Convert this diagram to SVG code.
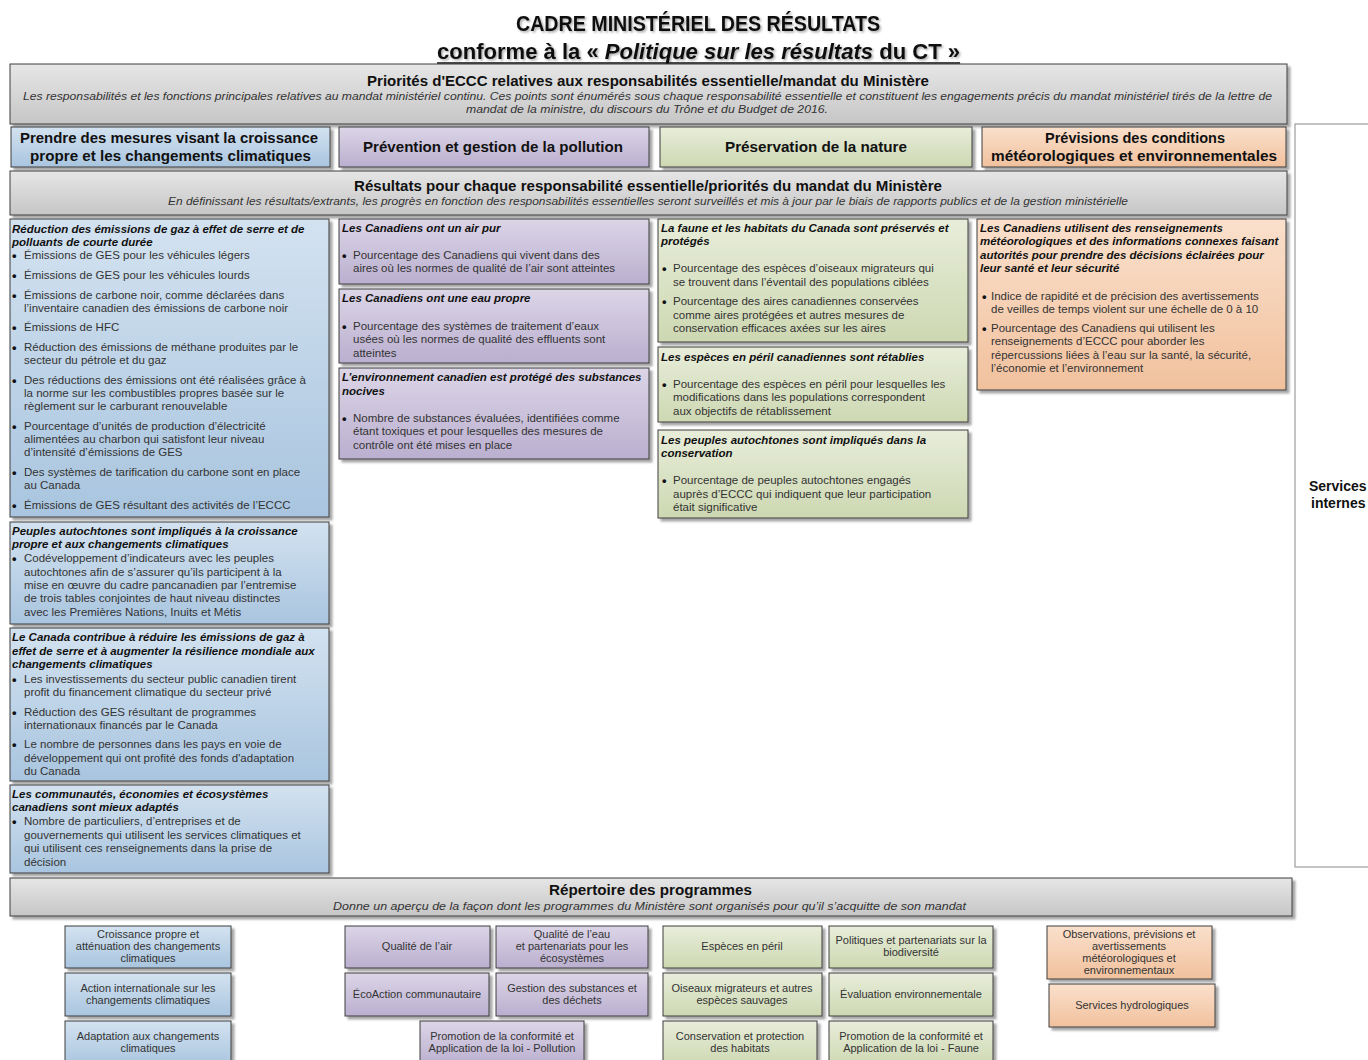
<svg xmlns="http://www.w3.org/2000/svg" width="1368" height="1060" viewBox="0 0 1368 1060">
<defs>
<linearGradient id="gGray" x1="0" y1="0" x2="0" y2="1"><stop offset="0" stop-color="#e6e6e6"/><stop offset="1" stop-color="#c6c6c6"/></linearGradient>
<linearGradient id="gBlue" x1="0" y1="0" x2="0" y2="1"><stop offset="0" stop-color="#d3e2f0"/><stop offset="1" stop-color="#a9c5df"/></linearGradient>
<linearGradient id="gPurple" x1="0" y1="0" x2="0" y2="1"><stop offset="0" stop-color="#dcd5e7"/><stop offset="1" stop-color="#baafcf"/></linearGradient>
<linearGradient id="gGreen" x1="0" y1="0" x2="0" y2="1"><stop offset="0" stop-color="#e8edda"/><stop offset="1" stop-color="#cdd8b2"/></linearGradient>
<linearGradient id="gOrange" x1="0" y1="0" x2="0" y2="1"><stop offset="0" stop-color="#fae0cc"/><stop offset="1" stop-color="#f1c19d"/></linearGradient>
<filter id="sh" x="-5%" y="-5%" width="115%" height="120%"><feDropShadow dx="3" dy="3" stdDeviation="1.2" flood-color="#000" flood-opacity="0.35"/></filter>
<filter id="tsh" x="-5%" y="-20%" width="110%" height="150%"><feDropShadow dx="1.5" dy="1.5" stdDeviation="0.8" flood-color="#000" flood-opacity="0.35"/></filter>
</defs>
<style>
text{font-family:"Liberation Sans",Arial,sans-serif}
.box{stroke:#3c3c3c;stroke-width:1;filter:url(#sh)}
.gray{fill:url(#gGray)}
.blue{fill:url(#gBlue)}
.purple{fill:url(#gPurple)}
.green{fill:url(#gGreen)}
.orange{fill:url(#gOrange)}
.ttl{font-weight:bold;font-size:22px;fill:#111}
.hd{font-weight:bold;font-size:15px;fill:#111}
.sub{font-style:italic;font-size:11px;fill:#333}
.t{font-style:italic;font-weight:bold;font-size:11.5px;fill:#111}
.b{font-size:11.5px;fill:#333}
.d{font-size:13px;font-weight:bold;fill:#111}
.p{font-size:11px;fill:#333;text-anchor:middle}
.si{font-weight:bold;font-size:14px;fill:#111}
</style>
<rect width="1368" height="1060" fill="#fff"/>

<g id="title" filter="url(#tsh)">
<text class="ttl" x="516" y="31" textLength="364" lengthAdjust="spacingAndGlyphs">CADRE MINISTÉRIEL DES RÉSULTATS</text>
<text class="ttl" x="437" y="59" textLength="523" lengthAdjust="spacingAndGlyphs">conforme à la « <tspan font-style="italic">Politique sur les résultats</tspan> du CT »</text>
<line x1="437" y1="63" x2="960" y2="63" stroke="#111" stroke-width="1.6"/>
</g>

<g id="priorites">
<rect class="box gray" x="10" y="64" width="1277" height="60"/>
<text class="hd" x="367" y="86" textLength="562" lengthAdjust="spacingAndGlyphs">Priorités d'ECCC relatives aux responsabilités essentielle/mandat du Ministère</text>
<text class="sub" x="23" y="100" textLength="1249" lengthAdjust="spacingAndGlyphs">Les responsabilités et les fonctions principales relatives au mandat ministériel continu. Ces points sont énumérés sous chaque responsabilité essentielle et constituent les engagements précis du mandat ministériel tirés de la lettre de</text>
<text class="sub" x="466" y="113" textLength="362" lengthAdjust="spacingAndGlyphs">mandat de la ministre, du discours du Trône et du Budget de 2016.</text>
</g>

<g id="resp-croissance">
<rect class="box blue" x="11" y="127" width="319" height="40"/>
<text class="hd" x="20" y="143" textLength="298" lengthAdjust="spacingAndGlyphs">Prendre des mesures visant la croissance</text>
<text class="hd" x="30" y="161" textLength="281" lengthAdjust="spacingAndGlyphs">propre et les changements climatiques</text>
</g>
<g id="resp-pollution">
<rect class="box purple" x="339" y="127" width="310" height="40"/>
<text class="hd" x="363" y="152" textLength="260" lengthAdjust="spacingAndGlyphs">Prévention et gestion de la pollution</text>
</g>
<g id="resp-nature">
<rect class="box green" x="660" y="127" width="312" height="40"/>
<text class="hd" x="725" y="152" textLength="182" lengthAdjust="spacingAndGlyphs">Préservation de la nature</text>
</g>
<g id="resp-meteo">
<rect class="box orange" x="982" y="127" width="304" height="40"/>
<text class="hd" x="1045" y="143" textLength="180" lengthAdjust="spacingAndGlyphs">Prévisions des conditions</text>
<text class="hd" x="991" y="161" textLength="286" lengthAdjust="spacingAndGlyphs">météorologiques et environnementales</text>
</g>

<g id="services-internes">
<rect x="1295" y="124" width="90" height="743" fill="#fff" stroke="#8a8a8a" stroke-width="1"/>
<text class="si" x="1309" y="491">Services</text>
<text class="si" x="1311" y="508">internes</text>
</g>

<g id="resultats">
<rect class="box gray" x="10" y="171" width="1277" height="44"/>
<text class="hd" x="354" y="191" textLength="588" lengthAdjust="spacingAndGlyphs">Résultats pour chaque responsabilité essentielle/priorités du mandat du Ministère</text>
<text class="sub" x="168" y="205" textLength="960" lengthAdjust="spacingAndGlyphs">En définissant les résultats/extrants, les progrès en fonction des responsabilités essentielles seront surveillés et mis à jour par le biais de rapports publics et de la gestion ministérielle</text>
</g>

<g id="res-reduction">
<rect class="box blue" x="10" y="219" width="319" height="298"/>
<text class="t"><tspan x="12" y="233">Réduction des émissions de gaz à effet de serre et de</tspan><tspan x="12" y="246">polluants de courte durée</tspan></text>
<text class="d"><tspan x="12" y="260">•</tspan><tspan x="12" y="280">•</tspan><tspan x="12" y="300">•</tspan><tspan x="12" y="332">•</tspan><tspan x="12" y="352">•</tspan><tspan x="12" y="385">•</tspan><tspan x="12" y="431">•</tspan><tspan x="12" y="477">•</tspan><tspan x="12" y="510">•</tspan></text>
<text class="b">
<tspan x="24" y="259">Émissions de GES pour les véhicules légers</tspan>
<tspan x="24" y="279">Émissions de GES pour les véhicules lourds</tspan>
<tspan x="24" y="299">Émissions de carbone noir, comme déclarées dans</tspan>
<tspan x="24" y="312">l’inventaire canadien des émissions de carbone noir</tspan>
<tspan x="24" y="331">Émissions de HFC</tspan>
<tspan x="24" y="351">Réduction des émissions de méthane produites par le</tspan>
<tspan x="24" y="364">secteur du pétrole et du gaz</tspan>
<tspan x="24" y="384">Des réductions des émissions ont été réalisées grâce à</tspan>
<tspan x="24" y="397">la norme sur les combustibles propres basée sur le</tspan>
<tspan x="24" y="410">règlement sur le carburant renouvelable</tspan>
<tspan x="24" y="430">Pourcentage d’unités de production d’électricité</tspan>
<tspan x="24" y="443">alimentées au charbon qui satisfont leur niveau</tspan>
<tspan x="24" y="456">d’intensité d’émissions de GES</tspan>
<tspan x="24" y="476">Des systèmes de tarification du carbone sont en place</tspan>
<tspan x="24" y="489">au Canada</tspan>
<tspan x="24" y="509">Émissions de GES résultant des activités de l’ECCC</tspan>
</text>
</g>

<g id="res-autochtones-croissance">
<rect class="box blue" x="10" y="522" width="319" height="102"/>
<text class="t"><tspan x="12" y="535">Peuples autochtones sont impliqués à la croissance</tspan><tspan x="12" y="548">propre et aux changements climatiques</tspan></text>
<text class="d" x="12" y="563">•</text>
<text class="b">
<tspan x="24" y="562">Codéveloppement d’indicateurs avec les peuples</tspan>
<tspan x="24" y="576">autochtones afin de s’assurer qu’ils participent à la</tspan>
<tspan x="24" y="589">mise en œuvre du cadre pancanadien par l’entremise</tspan>
<tspan x="24" y="602">de trois tables conjointes de haut niveau distinctes</tspan>
<tspan x="24" y="616">avec les Premières Nations, Inuits et Métis</tspan>
</text>
</g>

<g id="res-canada-mondial">
<rect class="box blue" x="10" y="628" width="319" height="153"/>
<text class="t"><tspan x="12" y="641">Le Canada contribue à réduire les émissions de gaz à</tspan><tspan x="12" y="655">effet de serre et à augmenter la résilience mondiale aux</tspan><tspan x="12" y="668">changements climatiques</tspan></text>
<text class="d"><tspan x="12" y="684">•</tspan><tspan x="12" y="717">•</tspan><tspan x="12" y="749">•</tspan></text>
<text class="b">
<tspan x="24" y="683">Les investissements du secteur public canadien tirent</tspan>
<tspan x="24" y="696">profit du financement climatique du secteur privé</tspan>
<tspan x="24" y="716">Réduction des GES résultant de programmes</tspan>
<tspan x="24" y="729">internationaux financés par le Canada</tspan>
<tspan x="24" y="748">Le nombre de personnes dans les pays en voie de</tspan>
<tspan x="24" y="762">développement qui ont profité des fonds d'adaptation</tspan>
<tspan x="24" y="775">du Canada</tspan>
</text>
</g>

<g id="res-communautes">
<rect class="box blue" x="10" y="785" width="319" height="88"/>
<text class="t"><tspan x="12" y="798">Les communautés, économies et écosystèmes</tspan><tspan x="12" y="811">canadiens sont mieux adaptés</tspan></text>
<text class="d" x="12" y="826">•</text>
<text class="b">
<tspan x="24" y="825">Nombre de particuliers, d’entreprises et de</tspan>
<tspan x="24" y="839">gouvernements qui utilisent les services climatiques et</tspan>
<tspan x="24" y="852">qui utilisent ces renseignements dans la prise de</tspan>
<tspan x="24" y="866">décision</tspan>
</text>
</g>

<g id="res-air">
<rect class="box purple" x="339" y="219" width="310" height="65"/>
<text class="t" x="342" y="232">Les Canadiens ont un air pur</text>
<text class="d" x="342" y="260">•</text>
<text class="b">
<tspan x="353" y="259">Pourcentage des Canadiens qui vivent dans des</tspan>
<tspan x="353" y="272">aires où les normes de qualité de l’air sont atteintes</tspan>
</text>
</g>

<g id="res-eau">
<rect class="box purple" x="339" y="289" width="310" height="74"/>
<text class="t" x="342" y="302">Les Canadiens ont une eau propre</text>
<text class="d" x="342" y="331">•</text>
<text class="b">
<tspan x="353" y="330">Pourcentage des systèmes de traitement d’eaux</tspan>
<tspan x="353" y="343">usées où les normes de qualité des effluents sont</tspan>
<tspan x="353" y="357">atteintes</tspan>
</text>
</g>

<g id="res-substances">
<rect class="box purple" x="339" y="368" width="310" height="91"/>
<text class="t"><tspan x="342" y="381">L’environnement canadien est protégé des substances</tspan><tspan x="342" y="395">nocives</tspan></text>
<text class="d" x="342" y="423">•</text>
<text class="b">
<tspan x="353" y="422">Nombre de substances évaluées, identifiées comme</tspan>
<tspan x="353" y="435">étant toxiques et pour lesquelles des mesures de</tspan>
<tspan x="353" y="449">contrôle ont été mises en place</tspan>
</text>
</g>

<g id="res-faune">
<rect class="box green" x="658" y="219" width="310" height="123"/>
<text class="t"><tspan x="661" y="232">La faune et les habitats du Canada sont préservés et</tspan><tspan x="661" y="245">protégés</tspan></text>
<text class="d"><tspan x="662" y="273">•</tspan><tspan x="662" y="306">•</tspan></text>
<text class="b">
<tspan x="673" y="272">Pourcentage des espèces d’oiseaux migrateurs qui</tspan>
<tspan x="673" y="286">se trouvent dans l’éventail des populations ciblées</tspan>
<tspan x="673" y="305">Pourcentage des aires canadiennes conservées</tspan>
<tspan x="673" y="319">comme aires protégées et autres mesures de</tspan>
<tspan x="673" y="332">conservation efficaces axées sur les aires</tspan>
</text>
</g>

<g id="res-especes">
<rect class="box green" x="658" y="347" width="310" height="75"/>
<text class="t" x="661" y="361">Les espèces en péril canadiennes sont rétablies</text>
<text class="d" x="662" y="389">•</text>
<text class="b">
<tspan x="673" y="388">Pourcentage des espèces en péril pour lesquelles les</tspan>
<tspan x="673" y="401">modifications dans les populations correspondent</tspan>
<tspan x="673" y="415">aux objectifs de rétablissement</tspan>
</text>
</g>

<g id="res-autochtones-conservation">
<rect class="box green" x="658" y="430" width="310" height="88"/>
<text class="t"><tspan x="661" y="444">Les peuples autochtones sont impliqués dans la</tspan><tspan x="661" y="457">conservation</tspan></text>
<text class="d" x="662" y="485">•</text>
<text class="b">
<tspan x="673" y="484">Pourcentage de peuples autochtones engagés</tspan>
<tspan x="673" y="498">auprès d’ECCC qui indiquent que leur participation</tspan>
<tspan x="673" y="511">était significative</tspan>
</text>
</g>

<g id="res-meteo">
<rect class="box orange" x="977" y="219" width="309" height="171"/>
<text class="t"><tspan x="980" y="232">Les Canadiens utilisent des renseignements</tspan><tspan x="980" y="245">météorologiques et des informations connexes faisant</tspan><tspan x="980" y="259">autorités pour prendre des décisions éclairées pour</tspan><tspan x="980" y="272">leur santé et leur sécurité</tspan></text>
<text class="d"><tspan x="982" y="301">•</tspan><tspan x="982" y="333">•</tspan></text>
<text class="b">
<tspan x="991" y="300">Indice de rapidité et de précision des avertissements</tspan>
<tspan x="991" y="313">de veilles de temps violent sur une échelle de 0 à 10</tspan>
<tspan x="991" y="332">Pourcentage des Canadiens qui utilisent les</tspan>
<tspan x="991" y="345">renseignements d’ECCC pour aborder les</tspan>
<tspan x="991" y="359">répercussions liées à l’eau sur la santé, la sécurité,</tspan>
<tspan x="991" y="372">l’économie et l’environnement</tspan>
</text>
</g>

<g id="repertoire">
<rect class="box gray" x="10" y="878" width="1282" height="38"/>
<text class="hd" x="549" y="895" textLength="203" lengthAdjust="spacingAndGlyphs">Répertoire des programmes</text>
<text class="sub" x="333" y="910" textLength="633" lengthAdjust="spacingAndGlyphs">Donne un aperçu de la façon dont les programmes du Ministère sont organisés pour qu’il s’acquitte de son mandat</text>
</g>

<g id="prog-croissance">
<rect class="box blue" x="65" y="926" width="166" height="42"/>
<text class="p"><tspan x="148" y="938">Croissance propre et</tspan><tspan x="148" y="950">atténuation des changements</tspan><tspan x="148" y="962">climatiques</tspan></text>
</g>
<g id="prog-international">
<rect class="box blue" x="65" y="973" width="166" height="43"/>
<text class="p"><tspan x="148" y="992">Action internationale sur les</tspan><tspan x="148" y="1004">changements climatiques</tspan></text>
</g>
<g id="prog-adaptation">
<rect class="box blue" x="65" y="1021" width="166" height="45"/>
<text class="p"><tspan x="148" y="1040">Adaptation aux changements</tspan><tspan x="148" y="1052">climatiques</tspan></text>
</g>

<g id="prog-air">
<rect class="box purple" x="345" y="926" width="145" height="42"/>
<text class="p" x="417" y="950">Qualité de l’air</text>
</g>
<g id="prog-eau">
<rect class="box purple" x="496" y="926" width="152" height="42"/>
<text class="p"><tspan x="572" y="938">Qualité de l’eau</tspan><tspan x="572" y="950">et partenariats pour les</tspan><tspan x="572" y="962">écosystèmes</tspan></text>
</g>
<g id="prog-ecoaction">
<rect class="box purple" x="345" y="973" width="144" height="43"/>
<text class="p" x="417" y="998">ÉcoAction communautaire</text>
</g>
<g id="prog-substances">
<rect class="box purple" x="496" y="973" width="152" height="43"/>
<text class="p"><tspan x="572" y="992">Gestion des substances et</tspan><tspan x="572" y="1004">des déchets</tspan></text>
</g>
<g id="prog-conformite-pollution">
<rect class="box purple" x="420" y="1021" width="164" height="45"/>
<text class="p"><tspan x="502" y="1040">Promotion de la conformité et</tspan><tspan x="502" y="1052">Application de la loi - Pollution</tspan></text>
</g>

<g id="prog-especes">
<rect class="box green" x="663" y="926" width="159" height="42"/>
<text class="p" x="742" y="950">Espèces en péril</text>
</g>
<g id="prog-biodiversite">
<rect class="box green" x="829" y="926" width="164" height="42"/>
<text class="p"><tspan x="911" y="944">Politiques et partenariats sur la</tspan><tspan x="911" y="956">biodiversité</tspan></text>
</g>
<g id="prog-oiseaux">
<rect class="box green" x="663" y="973" width="159" height="43"/>
<text class="p"><tspan x="742" y="992">Oiseaux migrateurs et autres</tspan><tspan x="742" y="1004">espèces sauvages</tspan></text>
</g>
<g id="prog-evaluation">
<rect class="box green" x="829" y="973" width="164" height="43"/>
<text class="p" x="911" y="998">Évaluation environnementale</text>
</g>
<g id="prog-habitats">
<rect class="box green" x="663" y="1021" width="154" height="45"/>
<text class="p"><tspan x="740" y="1040">Conservation et protection</tspan><tspan x="740" y="1052">des habitats</tspan></text>
</g>
<g id="prog-conformite-faune">
<rect class="box green" x="829" y="1021" width="164" height="45"/>
<text class="p"><tspan x="911" y="1040">Promotion de la conformité et</tspan><tspan x="911" y="1052">Application de la loi - Faune</tspan></text>
</g>

<g id="prog-observations">
<rect class="box orange" x="1047" y="926" width="165" height="53"/>
<text class="p"><tspan x="1129" y="938">Observations, prévisions et</tspan><tspan x="1129" y="950">avertissements</tspan><tspan x="1129" y="962">météorologiques et</tspan><tspan x="1129" y="974">environnementaux</tspan></text>
</g>
<g id="prog-hydro">
<rect class="box orange" x="1049" y="984" width="166" height="43"/>
<text class="p" x="1132" y="1009">Services hydrologiques</text>
</g>

<g id="connectors"></g>
</svg>
